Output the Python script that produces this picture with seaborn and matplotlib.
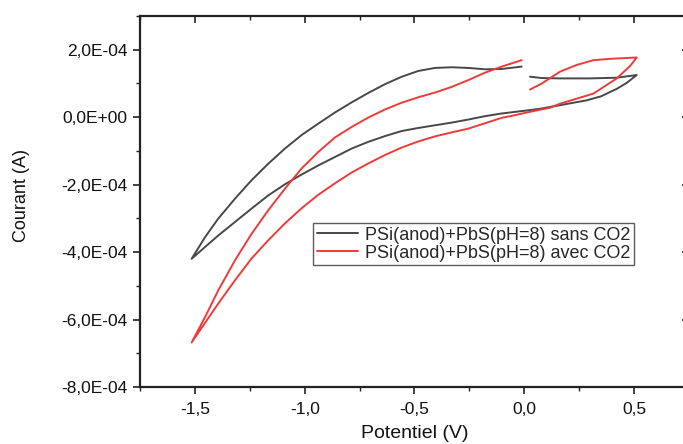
import numpy as np
import pandas as pd
import matplotlib
matplotlib.use("Agg")
import matplotlib.pyplot as plt
from matplotlib.ticker import MultipleLocator, FuncFormatter
import seaborn as sns

# Cyclic voltammograms, points listed in scan order
label_sans = "PSi(anod)+PbS(pH=8) sans CO2"
label_avec = "PSi(anod)+PbS(pH=8) avec CO2"

pot_sans = [0.026, 0.080, 0.163, 0.300, 0.420, 0.512,
            0.467, 0.421, 0.350, 0.284, 0.200, 0.072, 0.026, -0.103, -0.179,
            -0.255, -0.330, -0.407, -0.483, -0.558, -0.634, -0.710, -0.786,
            -0.862, -0.938, -1.014, -1.090, -1.166, -1.242, -1.318, -1.394,
            -1.454, -1.515,
            -1.454, -1.394, -1.318, -1.242, -1.166, -1.090, -1.014, -0.938,
            -0.862, -0.786, -0.710, -0.634, -0.558, -0.483, -0.407, -0.330,
            -0.255, -0.179, -0.103, -0.012]
cur_sans = [1.20e-4, 1.16e-4, 1.15e-4, 1.15e-4, 1.17e-4, 1.25e-4,
            1.02e-4, 0.84e-4, 0.62e-4, 0.50e-4, 0.40e-4, 0.25e-4, 0.21e-4, 0.11e-4, 0.03e-4,
            -0.07e-4, -0.16e-4, -0.24e-4, -0.32e-4, -0.41e-4, -0.56e-4, -0.73e-4, -0.93e-4,
            -1.18e-4, -1.43e-4, -1.70e-4, -1.99e-4, -2.32e-4, -2.71e-4, -3.11e-4, -3.51e-4,
            -3.85e-4, -4.20e-4,
            -3.56e-4, -3.01e-4, -2.42e-4, -1.87e-4, -1.38e-4, -0.93e-4, -0.53e-4, -0.19e-4,
            0.14e-4, 0.44e-4, 0.72e-4, 0.98e-4, 1.20e-4, 1.37e-4, 1.46e-4, 1.48e-4,
            1.46e-4, 1.42e-4, 1.43e-4, 1.50e-4]

pot_avec = [0.026, 0.080, 0.163, 0.239, 0.315, 0.391, 0.512,
            0.482, 0.421, 0.315, 0.163, 0.117, 0.026, -0.050, -0.103, -0.179,
            -0.255, -0.330, -0.407, -0.483, -0.558, -0.634, -0.710, -0.786,
            -0.862, -0.938, -1.014, -1.090, -1.166, -1.242, -1.318, -1.394,
            -1.515,
            -1.454, -1.394, -1.318, -1.242, -1.166, -1.090, -1.014, -0.938,
            -0.862, -0.786, -0.710, -0.634, -0.558, -0.483, -0.407, -0.330,
            -0.255, -0.179, -0.103, -0.012]
cur_avec = [0.82e-4, 1.00e-4, 1.35e-4, 1.55e-4, 1.69e-4, 1.73e-4, 1.77e-4,
            1.52e-4, 1.15e-4, 0.70e-4, 0.40e-4, 0.28e-4, 0.16e-4, 0.05e-4, -0.02e-4, -0.18e-4,
            -0.34e-4, -0.45e-4, -0.57e-4, -0.72e-4, -0.90e-4, -1.12e-4, -1.37e-4, -1.64e-4,
            -1.96e-4, -2.30e-4, -2.70e-4, -3.15e-4, -3.65e-4, -4.19e-4, -4.84e-4, -5.53e-4,
            -6.68e-4,
            -5.93e-4, -5.14e-4, -4.25e-4, -3.46e-4, -2.76e-4, -2.12e-4, -1.52e-4, -1.03e-4,
            -0.60e-4, -0.29e-4, -0.01e-4, 0.23e-4, 0.43e-4, 0.59e-4, 0.73e-4, 0.90e-4,
            1.10e-4, 1.32e-4, 1.50e-4, 1.69e-4]

df = pd.concat([
    pd.DataFrame({"Potentiel": pot_sans, "Courant": cur_sans, "serie": label_sans}),
    pd.DataFrame({"Potentiel": pot_avec, "Courant": cur_avec, "serie": label_avec}),
], ignore_index=True)

sns.set_style("white")
plt.rcParams["font.family"] = ["Liberation Sans", "DejaVu Sans"]

fig = plt.figure(figsize=(6.83, 4.44), dpi=100)
ax = fig.add_axes([140 / 683, 1 - 387 / 444, (689 - 140) / 683, (387 - 16) / 444])

palette = {label_sans: "#484848", label_avec: "#f03a3a"}
sns.lineplot(data=df, x="Potentiel", y="Courant", hue="serie", palette=palette,
             sort=False, estimator=None, linewidth=1.4, ax=ax)
for ln in ax.get_lines():
    ln.set_solid_joinstyle("round")

ax.set_xlim(-1.75, 0.75)
ax.set_ylim(-8e-4, 3e-4)

ax.xaxis.set_major_locator(MultipleLocator(0.5))
ax.xaxis.set_minor_locator(MultipleLocator(0.25))
ax.yaxis.set_major_locator(MultipleLocator(2e-4))
ax.yaxis.set_minor_locator(MultipleLocator(1e-4))

def fmt_x(v, pos):
    return f"{v:.1f}".replace(".", ",").replace("-0,0", "0,0")

def fmt_y(v, pos):
    if abs(v) < 1e-12:
        return "0,0E+00"
    return f"{v:.1E}".replace(".", ",")

ax.xaxis.set_major_formatter(FuncFormatter(fmt_x))
ax.yaxis.set_major_formatter(FuncFormatter(fmt_y))

for side in ["left", "bottom", "top", "right"]:
    ax.spines[side].set_visible(True)
    ax.spines[side].set_color("#222222")
    ax.spines[side].set_linewidth(1.6)

ax.tick_params(axis="both", which="major", length=5, width=1.2, color="#222222",
               labelsize=12.5, labelcolor="#111111", pad=4)
ax.tick_params(axis="both", which="minor", length=3, width=1.0, color="#222222")
ax.tick_params(axis="x", which="both", bottom=True, top=True, direction="out")
ax.tick_params(axis="y", which="both", left=True, right=True, direction="out")
ax.tick_params(axis="x", which="major", pad=6)
# inward ticks on the top and right edges
for t in ax.xaxis.get_major_ticks() + ax.xaxis.get_minor_ticks():
    t.tick2line.set_marker(3)
for t in ax.yaxis.get_major_ticks() + ax.yaxis.get_minor_ticks():
    t.tick2line.set_marker(0)

ax.set_xlabel("Potentiel (V)", fontsize=14, color="#111111")
ax.set_ylabel("Courant (A)", fontsize=13, color="#111111")
ax.xaxis.set_label_coords(0.5, -0.102)
ax.yaxis.set_label_coords(-0.200, 0.515)

handles, labels = ax.get_legend_handles_labels()
leg = ax.legend(handles, labels, loc="upper left", bbox_to_anchor=(0.315, 0.442),
                borderaxespad=0, frameon=True, fancybox=False, fontsize=13,
                handlelength=2.3, handletextpad=0.4, borderpad=0.2,
                labelspacing=0.05)
leg.get_frame().set_edgecolor("#333333")
leg.get_frame().set_linewidth(1.0)

fig.savefig("out.png", dpi=100)
